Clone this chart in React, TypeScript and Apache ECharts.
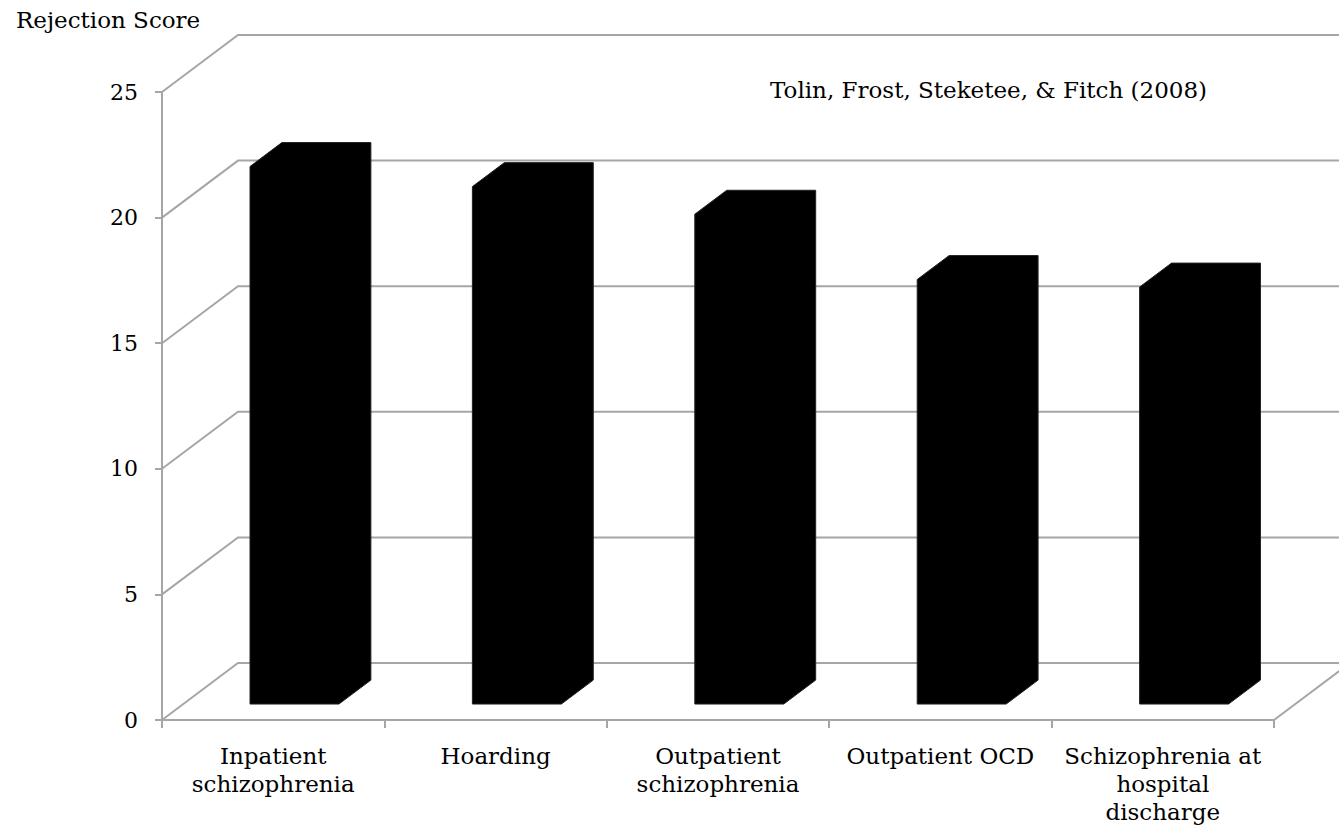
import React, { useEffect, useRef } from "react";
import * as echarts from "echarts";

const categories = [
  "Inpatient\nschizophrenia",
  "Hoarding",
  "Outpatient\nschizophrenia",
  "Outpatient OCD",
  "Schizophrenia at\nhospital\ndischarge",
];
const rejectionScores = [21.4, 20.6, 19.5, 16.9, 16.6];
const yTicks = [0, 5, 10, 15, 20, 25];
const yAxisName = "Rejection Score";
const sourceNote = "Tolin, Frost, Steketee, & Fitch (2008)";

// 3D (oblique) projection style constants
const DEPTH_DX = 76;
const DEPTH_DY = -57;
const Z_FRONT = 0.28;
const Z_BACK = 0.70;
const BAR_FRAC = 0.4;
const GRID_COLOR = "#a6a6a6";
const FONT = "'DejaVu Serif', serif";

export default function App() {
  const ref = useRef<HTMLDivElement>(null);

  useEffect(() => {
    if (!ref.current) return;
    const chart = echarts.init(ref.current, undefined, { renderer: "svg" });

    const option: any = {
      animation: false,
      backgroundColor: "#ffffff",
      title: [
        {
          text: yAxisName,
          left: 16,
          top: 8,
          padding: 0,
          textStyle: { fontFamily: FONT, fontSize: 23, fontWeight: "normal", color: "#000" },
        },
        {
          text: sourceNote,
          left: 770,
          top: 78,
          padding: 0,
          textStyle: { fontFamily: FONT, fontSize: 23, fontWeight: "normal", color: "#000" },
        },
      ],
      grid: { left: 162, right: 65, top: 92, bottom: 115, containLabel: false },
      xAxis: {
        type: "category",
        data: categories,
        boundaryGap: true,
        axisLine: { show: true, lineStyle: { color: GRID_COLOR, width: 2 } },
        axisTick: { show: true, length: 8, alignWithLabel: false, lineStyle: { color: GRID_COLOR, width: 2 } },
        axisLabel: {
          interval: 0,
          margin: 22,
          fontFamily: FONT,
          fontSize: 23,
          lineHeight: 28,
          color: "#000",
        },
        splitLine: { show: false },
      },
      yAxis: {
        type: "value",
        min: 0,
        max: 25,
        interval: 5,
        axisLine: { show: true, lineStyle: { color: GRID_COLOR, width: 2 } },
        axisTick: { show: true, length: 7, lineStyle: { color: GRID_COLOR, width: 2 } },
        axisLabel: { margin: 24, fontFamily: FONT, fontSize: 22, color: "#000" },
        splitLine: { show: false },
      },
      series: [
        {
          type: "custom",
          name: "frame",
          z: 1,
          silent: true,
          clip: false,
          data: yTicks.map((v) => [0, v]),
          encode: { x: 0, y: 1 },
          renderItem: (params: any, api: any) => {
            const v = api.value(1);
            const cs = params.coordSys;
            const x0 = cs.x;
            const x1 = cs.x + cs.width;
            const y = api.coord([0, v])[1];
            const children: any[] = [
              {
                type: "polyline",
                shape: {
                  points: [
                    [x0, y],
                    [x0 + DEPTH_DX, y + DEPTH_DY],
                    [x1 + DEPTH_DX, y + DEPTH_DY],
                  ],
                },
                style: { stroke: GRID_COLOR, lineWidth: 2, fill: "none" },
              },
            ];
            if (v === 0) {
              children.push({
                type: "line",
                shape: { x1: x1, y1: y, x2: x1 + DEPTH_DX, y2: y + DEPTH_DY },
                style: { stroke: GRID_COLOR, lineWidth: 2 },
              });
            }
            return { type: "group", children };
          },
        },
        {
          type: "custom",
          name: "Rejection Score",
          z: 3,
          clip: false,
          data: rejectionScores.map((v, i) => [i, v]),
          encode: { x: 0, y: 1 },
          renderItem: (params: any, api: any) => {
            const i = api.value(0);
            const v = api.value(1);
            const base = api.coord([i, 0]);
            const top = api.coord([i, v]);
            const band = api.size([1, 0])[0];
            const w = band * BAR_FRAC;
            const fx = base[0] + Z_FRONT * DEPTH_DX - w / 2;
            const fyb = base[1] + Z_FRONT * DEPTH_DY;
            const fyt = top[1] + Z_FRONT * DEPTH_DY;
            const bdx = (Z_BACK - Z_FRONT) * DEPTH_DX;
            const bdy = (Z_BACK - Z_FRONT) * DEPTH_DY;
            return {
              type: "polygon",
              shape: {
                points: [
                  [fx, fyb],
                  [fx + w, fyb],
                  [fx + w + bdx, fyb + bdy],
                  [fx + w + bdx, fyt + bdy],
                  [fx + bdx, fyt + bdy],
                  [fx, fyt],
                ],
              },
              style: { fill: "#000000", stroke: "#222222", lineWidth: 1 },
            };
          },
        },
      ],
    };

    chart.setOption(option);
    return () => chart.dispose();
  }, []);

  return (
    <div
      ref={ref}
      style={{ position: "fixed", left: 0, top: 0, width: 1339, height: 835, background: "#fff" }}
    />
  );
}
